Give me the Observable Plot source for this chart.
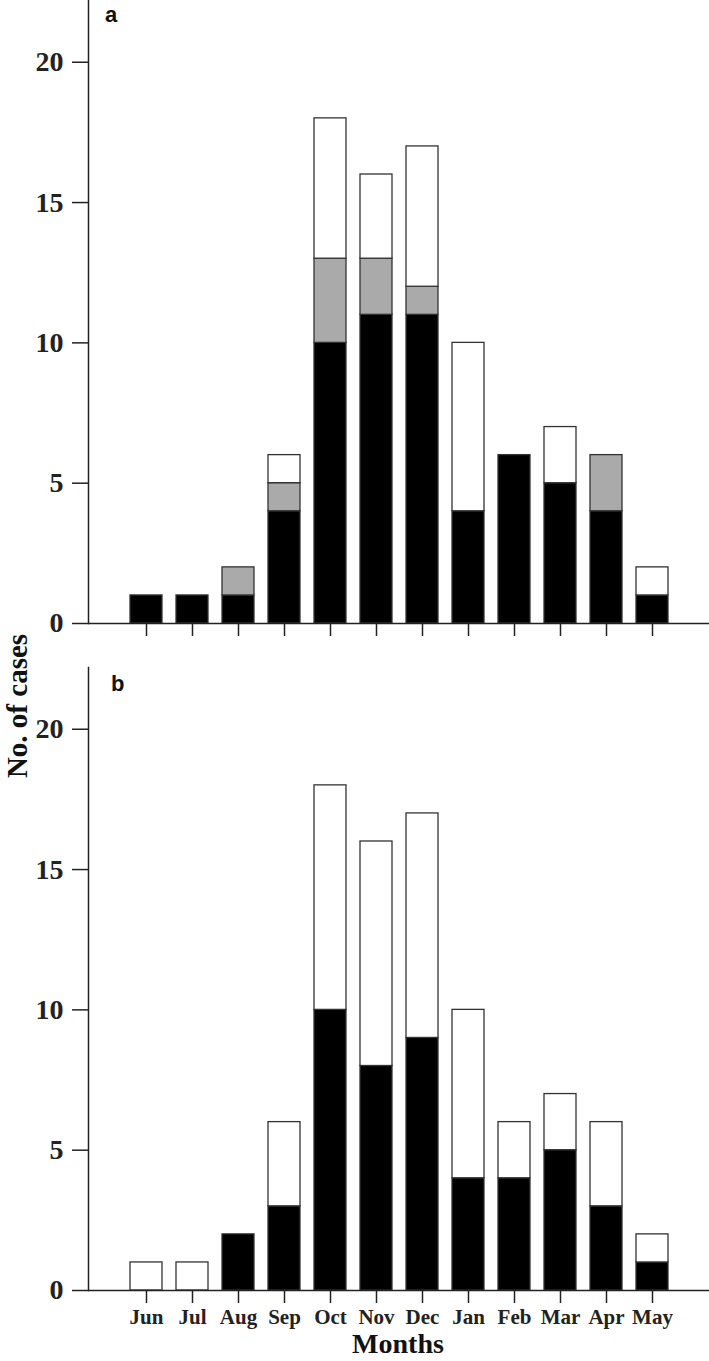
<!DOCTYPE html>
<html>
<head>
<meta charset="utf-8">
<script src="https://cdn.jsdelivr.net/npm/d3@7"></script>
<script src="https://cdn.jsdelivr.net/npm/@observablehq/plot@0.6"></script>
<style>
  html, body { margin: 0; padding: 0; background: #fff; }
  #wrap { position: relative; width: 709px; height: 1361px; overflow: hidden; }
  #wrap svg { display: block; }
  #overlay { position: absolute; left: 0; top: 0; pointer-events: none; }
</style>
</head>
<body>
<div id="wrap"></div>
<script>
// ---- data ----
const months = ["Jun","Jul","Aug","Sep","Oct","Nov","Dec","Jan","Feb","Mar","Apr","May"];
const yTicks = [0, 5, 10, 15, 20];
const categories = ["cat1", "cat2", "cat3"];
// panel a
const aBlack = [1, 1, 1, 4, 10, 11, 11, 4, 6, 5, 4, 1];
const aGray  = [0, 0, 1, 1, 3, 2, 1, 0, 0, 0, 2, 0];
const aWhite = [0, 0, 0, 1, 5, 3, 5, 6, 0, 2, 0, 1];
// panel b
const bBlack = [0, 0, 2, 3, 10, 8, 9, 4, 4, 5, 3, 1];
const bWhite = [1, 1, 0, 3, 8, 8, 8, 6, 2, 2, 3, 1];

function toRows(series) {
  const rows = [];
  months.forEach((m, i) => {
    series.forEach(([key, arr]) => {
      if (arr[i] > 0) rows.push({month: m, cat: key, value: arr[i]});
    });
  });
  return rows;
}
const rowsA = toRows([["cat1", aBlack], ["cat2", aGray], ["cat3", aWhite]]);
const rowsB = toRows([["cat1", bBlack], ["cat3", bWhite]]);

const serif = "'Liberation Serif', 'Times New Roman', serif";
const ink = "#222";

function panel(rows, height, marginBottom, showLabels) {
  return Plot.plot({
    width: 709,
    height,
    marginLeft: 88,
    marginRight: 0,
    marginTop: 0,
    marginBottom,
    style: {fontFamily: serif, fontWeight: "bold", background: "#fff", color: ink, overflow: "visible"},
    x: {domain: months, type: "band", paddingInner: 0.31, paddingOuter: 0.84, label: null},
    y: {domain: [0, 22.2], label: null},
    color: {type: "ordinal", domain: categories, range: ["#000000", "#aaaaaa", "#ffffff"]},
    marks: [
      Plot.barY(rows, {x: "month", y: "value", fill: "cat", stroke: "#333", strokeWidth: 1.3}),
      Plot.frame({anchor: "left", stroke: ink, strokeWidth: 1.5}),
      Plot.ruleY([0], {stroke: ink, strokeWidth: 1.5}),
      Plot.axisY({ticks: yTicks, tickSize: 16, tickPadding: 9, fontSize: 28, fontWeight: "bold", stroke: ink, strokeWidth: 1.5, label: null}),
      Plot.axisX({tickSize: 13, tickPadding: 6, fontSize: 21, fontWeight: "bold", stroke: ink, strokeWidth: 1.5, label: null,
        tickFormat: showLabels ? (d) => d : () => ""})
    ]
  });
}

const wrap = document.getElementById("wrap");
wrap.appendChild(panel(rowsA, 667, 44, false));
wrap.appendChild(panel(rowsB, 694, 71, true));

// overlay titles
const ov = d3.select(wrap).append("svg")
  .attr("id", "overlay").attr("width", 709).attr("height", 1361);
ov.append("text").attr("x", 105).attr("y", 22)
  .attr("font-family", "'Liberation Sans', Arial, sans-serif").attr("font-weight", "bold").attr("font-size", 22)
  .attr("fill", "#111").text("a");
ov.append("text").attr("x", 111).attr("y", 691)
  .attr("font-family", "'Liberation Sans', Arial, sans-serif").attr("font-weight", "bold").attr("font-size", 22)
  .attr("fill", "#111").text("b");
ov.append("text").attr("x", 398).attr("y", 1353).attr("text-anchor", "middle")
  .attr("font-family", serif).attr("font-weight", "bold").attr("font-size", 28)
  .attr("fill", "#111").text("Months");
ov.append("text").attr("transform", "translate(27,706) rotate(-90)").attr("text-anchor", "middle")
  .attr("font-family", serif).attr("font-weight", "bold").attr("font-size", 29)
  .attr("fill", "#111").text("No. of cases");
</script>
</body>
</html>
